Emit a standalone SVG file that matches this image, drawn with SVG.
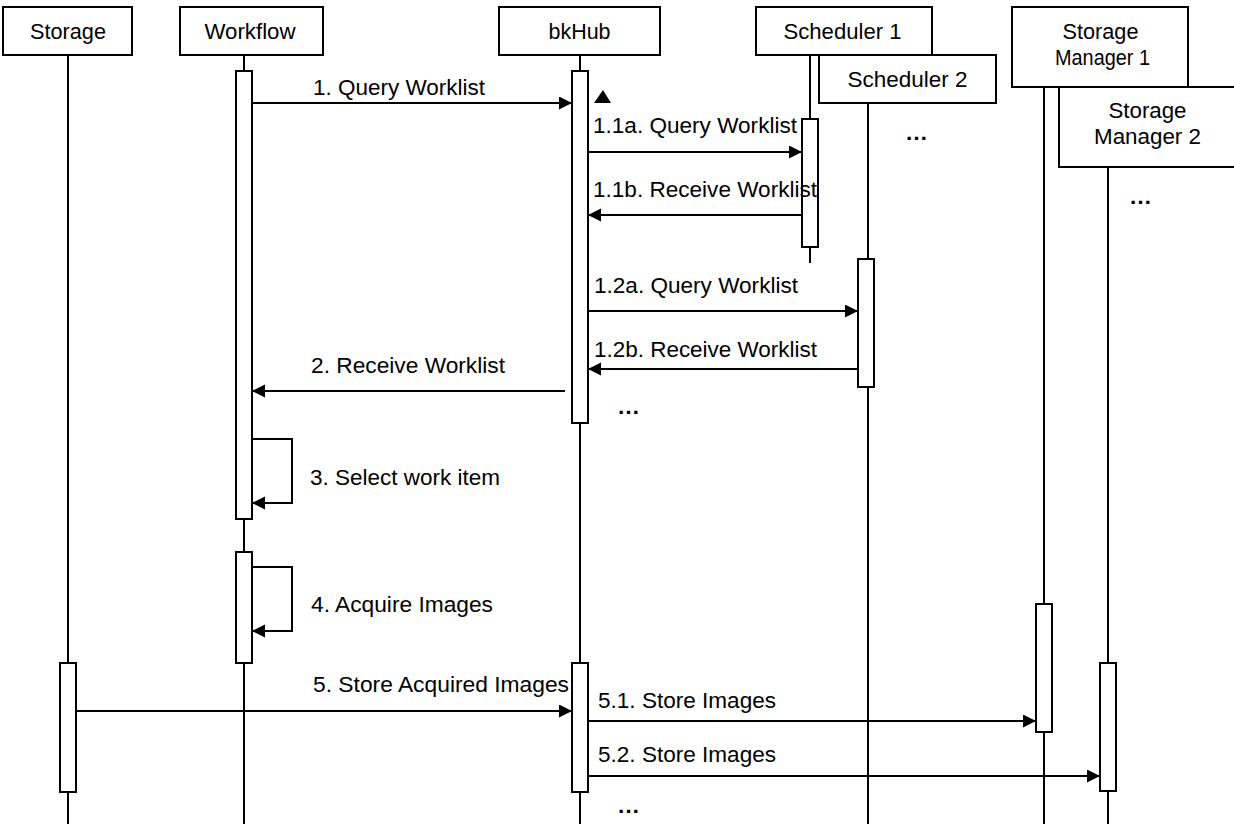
<svg xmlns="http://www.w3.org/2000/svg" width="1234" height="824" viewBox="0 0 1234 824">
<style>
  text { font-family: "Liberation Sans", Arial, sans-serif; font-size: 21.5px; fill: #000; }
  .hdr { fill: #fff; stroke: #000; stroke-width: 2; }
  .life { stroke: #000; stroke-width: 2; fill: none; }
  .act { fill: #fff; stroke: #000; stroke-width: 2; }
  .msg { stroke: #000; stroke-width: 2; fill: none; marker-end: url(#arr); }
  .c { text-anchor: middle; }
  .dots { font-weight: bold; }
</style>
<defs>
  <marker id="arr" markerUnits="userSpaceOnUse" markerWidth="14" markerHeight="14" refX="13" refY="6.5" orient="auto">
    <path d="M0,0 L13,6.5 L0,13 z" fill="#000"/>
  </marker>
</defs>
<rect width="1234" height="824" fill="#fff"/>

<g id="node-storage">
  <line class="life" x1="68" y1="55" x2="68" y2="824"/>
  <rect class="hdr" x="3" y="7" width="129" height="48"/>
  <text class="c" x="68" y="39" textLength="76" lengthAdjust="spacingAndGlyphs">Storage</text>
  <rect class="act" x="60" y="663" width="16" height="129"/>
</g>

<g id="node-workflow">
  <line class="life" x1="244" y1="55" x2="244" y2="824"/>
  <rect class="hdr" x="180" y="7" width="143" height="48"/>
  <text class="c" x="250" y="39" textLength="91" lengthAdjust="spacingAndGlyphs">Workflow</text>
  <rect class="act" x="236" y="71" width="16" height="448"/>
  <rect class="act" x="236" y="552" width="16" height="111"/>
</g>

<g id="node-bkhub">
  <line class="life" x1="580" y1="55" x2="580" y2="824"/>
  <rect class="hdr" x="499" y="7" width="161" height="48"/>
  <text class="c" x="579.5" y="39" textLength="62" lengthAdjust="spacingAndGlyphs">bkHub</text>
  <rect class="act" x="572" y="71" width="16" height="352"/>
  <rect class="act" x="572" y="663" width="16" height="129"/>
  <text class="dots" x="617" y="414" textLength="23" lengthAdjust="spacingAndGlyphs">…</text>
  <text class="dots" x="617" y="813" textLength="23" lengthAdjust="spacingAndGlyphs">…</text>
</g>

<g id="node-scheduler1">
  <line class="life" x1="810" y1="55" x2="810" y2="263"/>
  <rect class="hdr" x="756" y="7" width="176" height="48"/>
  <text class="c" x="842.5" y="39" textLength="118" lengthAdjust="spacingAndGlyphs">Scheduler 1</text>
  <rect class="act" x="802" y="119" width="16" height="128"/>
</g>

<g id="node-scheduler2">
  <line class="life" x1="868" y1="103" x2="868" y2="824"/>
  <rect class="hdr" x="819" y="55" width="177" height="48"/>
  <text class="c" x="907.5" y="87" textLength="120" lengthAdjust="spacingAndGlyphs">Scheduler 2</text>
  <rect class="act" x="858" y="259" width="16" height="128"/>
  <text class="dots" x="905" y="140" textLength="23" lengthAdjust="spacingAndGlyphs">…</text>
</g>

<g id="node-storagemanager1">
  <line class="life" x1="1044" y1="87" x2="1044" y2="824"/>
  <rect class="hdr" x="1012" y="7" width="176" height="80"/>
  <text class="c" x="1100.5" y="39" textLength="76" lengthAdjust="spacingAndGlyphs">Storage</text>
  <text class="c" x="1102.5" y="65" textLength="95" lengthAdjust="spacingAndGlyphs">Manager 1</text>
  <rect class="act" x="1036" y="604" width="16" height="128"/>
</g>

<g id="node-storagemanager2">
  <line class="life" x1="1108" y1="167" x2="1108" y2="824"/>
  <rect class="hdr" x="1059" y="87" width="190" height="80"/>
  <text class="c" x="1147.5" y="118" textLength="78" lengthAdjust="spacingAndGlyphs">Storage</text>
  <text class="c" x="1147.5" y="144" textLength="107" lengthAdjust="spacingAndGlyphs">Manager 2</text>
  <rect class="act" x="1100" y="663" width="16" height="128"/>
  <text class="dots" x="1129" y="204" textLength="23" lengthAdjust="spacingAndGlyphs">…</text>
</g>

<g id="connectors">
  <line class="msg" x1="252" y1="103" x2="572" y2="103"/>
  <text x="313" y="95" textLength="172" lengthAdjust="spacingAndGlyphs">1. Query Worklist</text>
  <polygon points="594,103 611,103 603,90" fill="#000"/>

  <line class="msg" x1="588" y1="152" x2="802" y2="152"/>
  <text x="593" y="133" textLength="204" lengthAdjust="spacingAndGlyphs">1.1a. Query Worklist</text>

  <line class="msg" x1="802" y1="215" x2="588" y2="215"/>
  <text x="593" y="197" textLength="224" lengthAdjust="spacingAndGlyphs">1.1b. Receive Worklist</text>

  <line class="msg" x1="588" y1="311" x2="858" y2="311"/>
  <text x="594" y="293" textLength="204" lengthAdjust="spacingAndGlyphs">1.2a. Query Worklist</text>

  <line class="msg" x1="858" y1="369" x2="588" y2="369"/>
  <text x="594" y="357" textLength="223" lengthAdjust="spacingAndGlyphs">1.2b. Receive Worklist</text>

  <line class="msg" x1="565" y1="391" x2="252" y2="391"/>
  <text x="311" y="373" textLength="194" lengthAdjust="spacingAndGlyphs">2. Receive Worklist</text>

  <polyline class="msg" points="252,439 292,439 292,503 252,503"/>
  <text x="310" y="485" textLength="190" lengthAdjust="spacingAndGlyphs">3. Select work item</text>

  <polyline class="msg" points="252,567 292,567 292,631 252,631"/>
  <text x="311" y="612" textLength="182" lengthAdjust="spacingAndGlyphs">4. Acquire Images</text>

  <line class="msg" x1="76" y1="711" x2="572" y2="711"/>
  <text x="313" y="692" textLength="256" lengthAdjust="spacingAndGlyphs">5. Store Acquired Images</text>

  <line class="msg" x1="588" y1="721" x2="1036" y2="721"/>
  <text x="598" y="708" textLength="178" lengthAdjust="spacingAndGlyphs">5.1. Store Images</text>

  <line class="msg" x1="588" y1="776" x2="1100" y2="776"/>
  <text x="598" y="762" textLength="178" lengthAdjust="spacingAndGlyphs">5.2. Store Images</text>
</g>
</svg>
